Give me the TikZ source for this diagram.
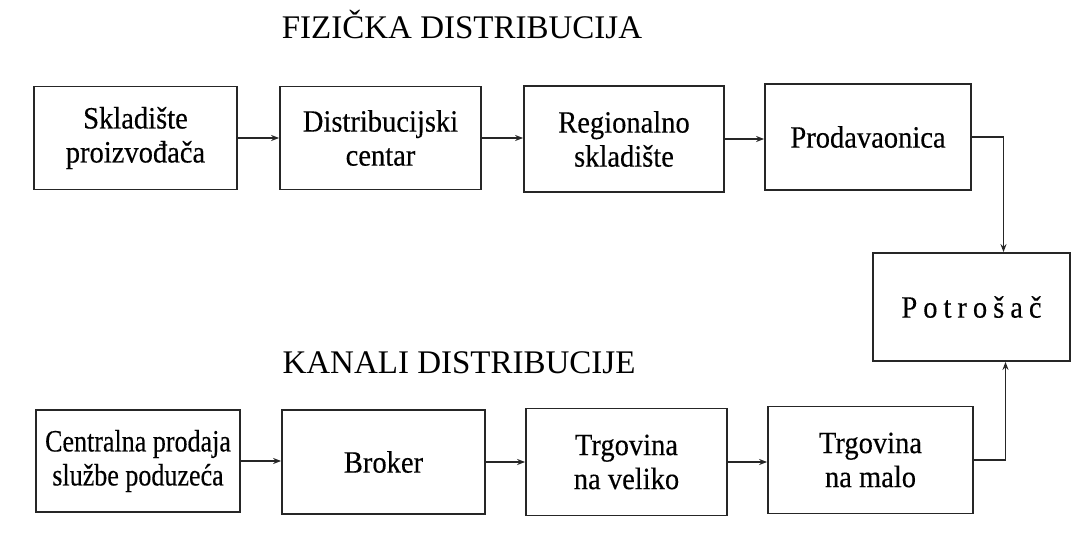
\documentclass[tikz,border=0pt]{standalone}
\usepackage{fontspec}
\setmainfont{Liberation Serif}
\newfontfamily\boxfont{Liberation Serif}[FakeStretch=0.92,FakeBold=0.3]
\newfontfamily\boxfontn{Liberation Serif}[FakeStretch=0.84,FakeBold=0.3]
\usetikzlibrary{arrows.meta}
\begin{document}
\begin{tikzpicture}[x=1pt,y=-1pt,
  box/.style={draw=black!85, line width=1.8pt, rectangle, align=center, inner sep=0pt,
    font=\boxfont\fontsize{31}{34}\selectfont},
  conn/.style={draw=black!85, line width=1.5pt, -{Stealth[length=8pt,width=6pt]}},
  ttl/.style={font=\fontsize{33}{36}\selectfont, inner sep=0pt, anchor=base}]
\useasboundingbox[fill=white] (0,0) rectangle (1071,534);
% titles
\node[ttl] (t1) at (462,39) {FIZIČKA DISTRIBUCIJA};
\node[ttl] (t2) at (459,374) {KANALI DISTRIBUCIJE};
% top row
\node[box, minimum width=203pt, minimum height=103pt] (b1) at (135.5,138) {Skladište\\proizvođača};
\node[box, minimum width=201pt, minimum height=103pt] (b2) at (380.5,138) {Distribucijski\\centar};
\node[box, minimum width=200pt, minimum height=106pt] (b3) at (624,139) {Regionalno\\skladište};
\node[box, minimum width=206pt, minimum height=106pt] (b4) at (868,137) {Prodavaonica};
% consumer
\node[box, minimum width=197pt, minimum height=108pt] (p) at (971.5,307) {P\kern6pt o\kern6pt t\kern6pt r\kern6pt o\kern6pt š\kern6pt a\kern6pt č};
% bottom row
\node[box, minimum width=204pt, minimum height=102pt, font=\boxfontn\fontsize{31}{34}\selectfont] (b5) at (138,461) {Centralna prodaja\\službe poduzeća};
\node[box, minimum width=203pt, minimum height=104pt] (b6) at (383.5,462) {Broker};
\node[box, minimum width=201pt, minimum height=107pt] (b7) at (626.5,462) {Trgovina\\na veliko};
\node[box, minimum width=205pt, minimum height=107pt] (b8) at (870.5,460) {Trgovina\\na malo};
% connectors
\draw[conn] (b1.east) -- (b2.west |- b1.east);
\draw[conn] (b2.east) -- (b3.west |- b2.east);
\draw[conn] (b3.east) -- (b4.west |- b3.east);
\draw[conn] (b4.east) -| ([xshift=32pt]p.north);
\draw[conn] (b5.east) -- (b6.west |- b5.east);
\draw[conn] (b6.east) -- (b7.west |- b6.east);
\draw[conn] (b7.east) -- (b8.west |- b7.east);
\draw[conn] (b8.east) -| ([xshift=34pt]p.south);
\end{tikzpicture}
\end{document}
